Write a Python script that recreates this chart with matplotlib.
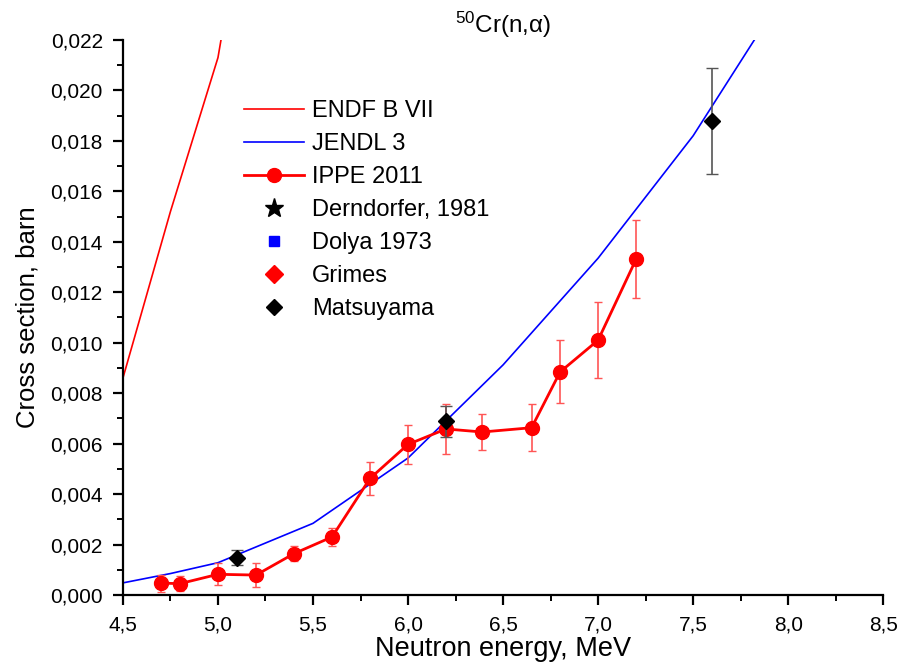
import matplotlib
matplotlib.use("Agg")
import matplotlib.pyplot as plt
from matplotlib.ticker import MultipleLocator, FuncFormatter

plt.rcParams['font.family'] = ['Liberation Sans', 'DejaVu Sans']
plt.rcParams['mathtext.fontset'] = 'custom'
plt.rcParams['mathtext.rm'] = 'Liberation Sans'
plt.rcParams['mathtext.it'] = 'Liberation Sans:italic'

# ENDF B VII evaluation
endf_e = [4.5, 4.75, 5.0, 5.05]
endf_xs = [0.0086, 0.0152, 0.0213, 0.0235]

# JENDL 3 evaluation
jendl_e = [4.5, 4.75, 5.0, 5.5, 6.0, 6.5, 7.0, 7.5, 8.0]
jendl_xs = [0.00048, 0.00085, 0.00128, 0.00284, 0.00543, 0.00912, 0.01335, 0.0182, 0.0241]

# IPPE 2011 measurement
ippe_e = [4.7, 4.8, 5.0, 5.2, 5.4, 5.6, 5.8, 6.0, 6.2, 6.39, 6.65, 6.8, 7.0, 7.2]
ippe_xs = [0.00047, 0.00045, 0.00082, 0.00079, 0.00164, 0.0023, 0.00462,
           0.00597, 0.00658, 0.00646, 0.00663, 0.00884, 0.0101, 0.01331]
ippe_err = [0.00034, 0.0003, 0.00044, 0.00049, 0.0003, 0.00035, 0.00065,
            0.00077, 0.001, 0.00073, 0.00092, 0.00125, 0.0015, 0.00155]

# Matsuyama
mats_e = [5.1, 6.2, 7.6]
mats_xs = [0.00148, 0.00688, 0.01878]
mats_err = [0.00029, 0.0006, 0.0021]

# legend-only series (no points in range)
dern_e, dern_xs = [], []
dolya_e, dolya_xs = [], []
grimes_e, grimes_xs = [], []

fig = plt.figure(figsize=(9.04, 6.72), dpi=100)
ax = fig.add_axes([0.136, 0.1146, 0.841, 0.826])

ax.plot(endf_e, endf_xs, color='#ff0000', lw=1.2, label='ENDF B VII')
ax.plot(jendl_e, jendl_xs, color='#0000ff', lw=1.2, label='JENDL 3')
ax.errorbar(ippe_e, ippe_xs, yerr=ippe_err, fmt='none', ecolor='#ff5555',
            elinewidth=1.2, capsize=3, capthick=1.0)
ax.plot(ippe_e, ippe_xs, color='#ff0000', lw=2, marker='o', ms=10, label='IPPE 2011')
ax.plot(dern_e, dern_xs, ls='none', marker='*', ms=14, color='black', label='Derndorfer, 1981')
ax.plot(dolya_e, dolya_xs, ls='none', marker='s', ms=7, color='#0000ff', label='Dolya 1973')
ax.plot(grimes_e, grimes_xs, ls='none', marker='D', ms=9, color='#ff0000', label='Grimes')
ax.errorbar(mats_e, mats_xs, yerr=mats_err, fmt='none', ecolor='#555555',
            elinewidth=1.2, capsize=4, capthick=1.0)
ax.plot(mats_e, mats_xs, ls='none', marker='D', ms=8, color='black', label='Matsuyama')

ax.set_xlim(4.5, 8.5)
ax.set_ylim(0, 0.022)
ax.xaxis.set_major_locator(MultipleLocator(0.5))
ax.xaxis.set_minor_locator(MultipleLocator(0.25))
ax.yaxis.set_major_locator(MultipleLocator(0.002))
ax.yaxis.set_minor_locator(MultipleLocator(0.001))
ax.xaxis.set_major_formatter(FuncFormatter(lambda v, p: f"{v:.1f}".replace('.', ',')))
ax.yaxis.set_major_formatter(FuncFormatter(lambda v, p: f"{v:.3f}".replace('.', ',')))

for s in ['top', 'right']:
    ax.spines[s].set_visible(False)
for s in ['left', 'bottom']:
    ax.spines[s].set_linewidth(1.6)
ax.tick_params(which='major', direction='out', length=7.5, width=1.6, labelsize=15)
ax.tick_params(axis='x', which='major', pad=7)
ax.tick_params(axis='y', which='major', pad=7)
ax.tick_params(which='minor', direction='out', length=4.5, width=1.4)

ax.set_xlabel('Neutron energy, MeV', fontsize=19.5, labelpad=1)
ax.set_ylabel('Cross section, barn', fontsize=18.5, labelpad=8)
ax.set_title(r'$^{50}$Cr(n,α)', fontsize=17.5, pad=5)

ax.legend(loc='upper left', bbox_to_anchor=(0.2565, 0.869), bbox_transform=fig.transFigure,
          frameon=False, fontsize=17, handlelength=2.55, handletextpad=0.34,
          labelspacing=0.47, borderpad=0)

fig.savefig('out.png', dpi=100)
